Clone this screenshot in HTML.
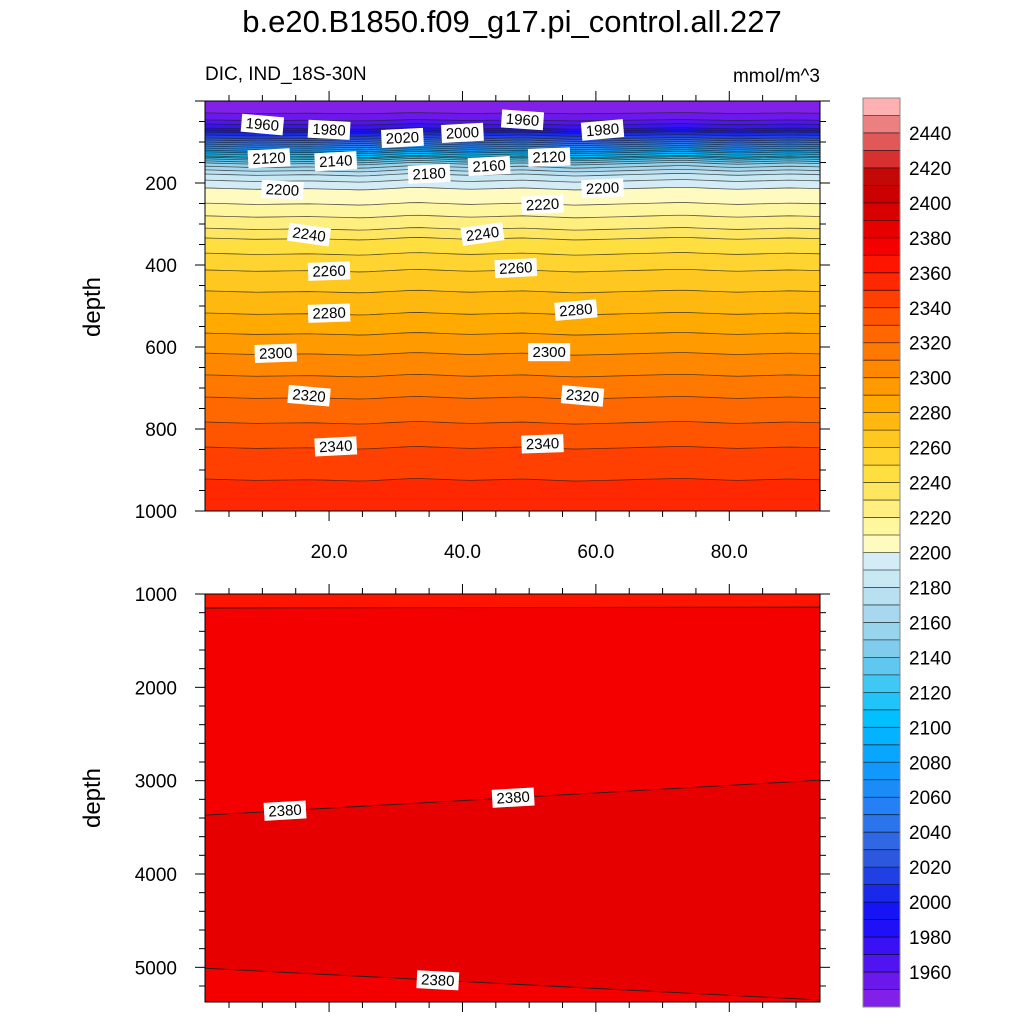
<!DOCTYPE html>
<html><head><meta charset="utf-8"><style>
body{margin:0;background:#fff;}
svg{display:block;font-family:"Liberation Sans",sans-serif;}
</style></head><body>
<svg id="c" width="1024" height="1024" xmlns="http://www.w3.org/2000/svg"></svg>
<script>
// ---- data ----
const levels = [1950,1960,1970,1980,1990,2000,2010,2020,2030,2040,2050,2060,2070,2080,2090,2100,2110,2120,2130,2140,2150,2160,2170,2180,2190,2200,2210,2220,2230,2240,2250,2260,2270,2280,2290,2300,2310,2320,2330,2340,2350];
const levelDepths = [29,46,56,66,71,76,83,90,95,100,105,110,115,120,124,129,134,137,141,146,151,159,168,178,193,212,249,280,310,334,371,412,463,517,566,615,668,722,783,844,922];
const waveX = [1.4,9,17,25,33,41,49,57,65,73,81,89,93.6];
const waveM = [0,2,1,3,-1,2,0,3,1,-1,2,0,1];
const colors = ["#8020E8","#6A18EC","#5014F0","#3A10F4","#2010F8","#1414F4","#1A28EC","#2040E4","#2C58E0","#3068E4","#2C74EC","#2480F4","#1A8CF8","#1098FC","#08A6FF","#04B2FF","#00C0FF","#20C4F8","#40C8F4","#60C8F0","#80CCEC","#98D4EC","#A8D8EE","#B8E0F0","#C8E8F4","#D4ECF6","#FFFAC0","#FFF6A0","#FFEE80","#FFE660","#FFDE40","#FFD430","#FFC820","#FFB810","#FFAA00","#FF9A00","#FF8800","#FF7800","#FF6800","#FF5400","#FF4000","#FF2800","#FF1400","#F40000","#E60000","#D80000","#CC0000","#C40808","#D83030","#E05858","#EC8080","#FFB0B0"];
const cbLabels = [1960,1980,2000,2020,2040,2060,2080,2100,2120,2140,2160,2180,2200,2220,2240,2260,2280,2300,2320,2340,2360,2380,2400,2420,2440];
const topLabelText = [1960,1980,2020,2000,1960,1980,2120,2140,2180,2160,2120,2200,2200,2220,2240,2240,2260,2260,2280,2280,2300,2300,2320,2320,2340,2340];
const topLabelX = [10,20,31,40,49,61,11,21,35,44,53,13,61,52,17,43,20,48,20,57,12,53,17,58,21,52];
const topLabelRot = [5,3,-3,-3,4,-5,-3,-3,-3,-3,-2,3,-3,-3,8,-8,-2,-3,-2,-5,-2,0,5,5,-3,-2];
const topLabelDy = [4,1,0,0,0,1,0,-1,0,-1,-1,1,-1,-12,-4,-5,0,-2,-1,-5,-1,-2,-2,-3,-2,-4];
// bottom panel contours (depth at left and right x)
const botLevels = [2370,2380,2380];
const botLeft = [1150,3370,5010];
const botRight = [1140,2995,5350];
const botLabelX = [13.4,47.6,36.3];
const botLabelLine = [1,1,2];
const xTicks = [20,40,60,80];
const yTicksTop = [200,400,600,800,1000];
const yTicksBot = [1000,2000,3000,4000,5000];

// ---- axes ----
const L=205,R=820,TT=101,TB=511,BT=594,BB=1002;
const X0=1.4,X1=93.6;
const xs=v=>L+(v-X0)/(X1-X0)*(R-L);
const ysT=d=>TT+d*0.41;
const ysB=d=>BT+(d-1000)*0.09333;
const NS="http://www.w3.org/2000/svg";
const svg=document.getElementById('c');
function mk(tag,attrs,parent){const e=document.createElementNS(NS,tag);for(const k in attrs)e.setAttribute(k,attrs[k]);(parent||svg).appendChild(e);return e;}
function wave(x){for(let i=0;i<waveX.length-1;i++){if(x<=waveX[i+1]){const t=(x-waveX[i])/(waveX[i+1]-waveX[i]);return waveM[i]+(waveM[i+1]-waveM[i])*t;}}return waveM[waveM.length-1];}
function lineDepth(i,x){const d=levelDepths[i];const s=Math.min(1,d/150);return Math.min(1000,d+wave(x)*(0.5+s*1.2));}
const xsamp=[];for(let x=X0;x<=X1+0.001;x+=(X1-X0)/60)xsamp.push(x);
function ptsFor(i){return xsamp.map(x=>[xs(x),ysT(lineDepth(i,x))]);}

// top panel
const gT=mk('g',{});


mk('rect',{x:L,y:TT,width:R-L,height:TB-TT,fill:colors[0]},gT);
for(let i=0;i<levels.length;i++){
  const p=ptsFor(i);
  const d='M'+p.map(q=>q.join(',')).join('L')+`L${R},${TB}L${L},${TB}Z`;
  const band=mk('path',{d:d,fill:colors[i+1]},gT);
  
  
}
for(let i=0;i<levels.length;i++){
  const p=ptsFor(i);
  const ln=mk('path',{d:'M'+p.map(q=>q.join(',')).join('L'),fill:'none',stroke:'#222',"stroke-width":0.8,"stroke-opacity":0.75},gT);
  
  
}
for(let k=0;k<topLabelText.length;k++){
  const i=levels.indexOf(topLabelText[k]);
  const x=xs(topLabelX[k]);const y=ysT(lineDepth(i,topLabelX[k]))+topLabelDy[k];
  const g=mk('g',{transform:`translate(${x},${y}) rotate(${topLabelRot[k]})`},gT);
  
  
  mk('rect',{x:-21,y:-9,width:42,height:18,fill:'#fff'},g);
  const t=mk('text',{x:0,y:5,"font-size":15,"text-anchor":"middle",fill:'#000'},g);t.textContent=topLabelText[k];
}
mk('rect',{x:L,y:TT,width:R-L,height:TB-TT,fill:'none',stroke:'#000',"stroke-width":1},gT);

// bottom panel
const gB=mk('g',{});


const bcol={above:colors[43],mid:colors[44],top:colors[42]};
mk('rect',{x:L,y:BT,width:R-L,height:BB-BT,fill:bcol.top},gB);
function bl(j){return [[L,ysB(botLeft[j])],[R,ysB(botRight[j])]];}
let p=bl(0);mk('path',{d:`M${p[0]}L${p[1]}L${R},${BB}L${L},${BB}Z`,fill:bcol.above},gB);
p=bl(1);mk('path',{d:`M${p[0]}L${p[1]}L${R},${BB}L${L},${BB}Z`,fill:bcol.mid},gB);
p=bl(2);mk('path',{d:`M${p[0]}L${p[1]}L${R},${BB}L${L},${BB}Z`,fill:bcol.above},gB);
for(let j=0;j<botLevels.length;j++){p=bl(j);
  const ln=mk('line',{x1:p[0][0],y1:p[0][1],x2:p[1][0],y2:p[1][1],stroke:'#222',"stroke-width":0.9},gB);
  
  
}
for(let k=0;k<botLabelX.length;k++){
  const j=botLabelLine[k];const t=(botLabelX[k]-X0)/(X1-X0);
  const x=xs(botLabelX[k]);const y=ysB(botLeft[j]+(botRight[j]-botLeft[j])*t);
  const ang=Math.atan2(ysB(botRight[j])-ysB(botLeft[j]),R-L)*180/Math.PI;
  const g=mk('g',{transform:`translate(${x},${y}) rotate(${ang})`},gB);
  
  
  mk('rect',{x:-21,y:-9,width:42,height:18,fill:'#fff'},g);
  const tx=mk('text',{x:0,y:5,"font-size":15,"text-anchor":"middle"},g);tx.textContent=botLevels[j];
}
mk('rect',{x:L,y:BT,width:R-L,height:BB-BT,fill:'none',stroke:'#000',"stroke-width":1},gB);

// ticks
function tick(x1,y1,x2,y2){mk('line',{x1,y1,x2,y2,stroke:'#000',"stroke-width":1});}
for(let v=5;v<=90;v+=5){const x=xs(v);const maj=v%20===0;const len=maj?10:6;
  tick(x,TT,x,TT-len);tick(x,TB,x,TB+len);tick(x,BT,x,BT-len);tick(x,BB,x,BB+len);}
for(let d=0;d<=1000;d+=50){const y=ysT(d);const maj=d%200===0;const len=maj?10:6;if(y<TT-0.5)continue;
  tick(L,y,L-len,y);tick(R,y,R+len,y);}
for(let d=1000;d<=5300;d+=200){const y=ysB(d);const maj=d%1000===0;const len=maj?10:6;
  tick(L,y,L-len,y);tick(R,y,R+len,y);}
for(const v of yTicksTop){const t=mk('text',{x:L-28,y:ysT(v)+7,"font-size":19,"text-anchor":"end"});t.textContent=v;
  }
for(const v of yTicksBot){const t=mk('text',{x:L-28,y:ysB(v)+7,"font-size":19,"text-anchor":"end"});t.textContent=v;
  }
for(const v of xTicks){const t=mk('text',{x:xs(v),y:558,"font-size":19,"text-anchor":"middle"});t.textContent=v.toFixed(1);
  }

// colorbar
const CX=863,CW=37,CT=98,CB=1007;const bh=(CB-CT)/colors.length;
const gC=mk('g',{});


for(let i=0;i<colors.length;i++){const y=CB-(i+1)*bh;
  mk('rect',{x:CX,y:y,width:CW,height:bh+0.3,fill:colors[i]},gC);
  if(i>0)mk('line',{x1:CX,y1:CB-i*bh,x2:CX+CW,y2:CB-i*bh,stroke:'#000',"stroke-width":0.8,"stroke-opacity":0.7},gC);}
mk('rect',{x:CX,y:CT,width:CW,height:CB-CT,fill:'none',stroke:'#888',"stroke-width":1},gC);
for(const v of cbLabels){const i=(v-1950)/10+1;const y=CB-i*bh;
  const t=mk('text',{x:909,y:y+7,"font-size":19},gC);t.textContent=v;}
</script>
<div style="position:absolute;left:0;top:0;width:1024px;height:1024px;pointer-events:none;font-family:'Liberation Sans',sans-serif;">
<div style="position:absolute;left:0;width:1024px;top:4px;text-align:center;font-size:31px;">b.e20.B1850.f09_g17.pi_control.all.227</div>
<div style="position:absolute;left:205px;top:64px;font-size:19px;">DIC, IND_18S-30N</div>
<div style="position:absolute;right:204px;top:66px;font-size:19px;">mmol/m^3</div>
<div style="position:absolute;left:93px;top:307px;font-size:24px;transform:translate(-50%,-50%) rotate(-90deg);">depth</div>
<div style="position:absolute;left:93px;top:798px;font-size:24px;transform:translate(-50%,-50%) rotate(-90deg);">depth</div>
</div>
</body></html>
